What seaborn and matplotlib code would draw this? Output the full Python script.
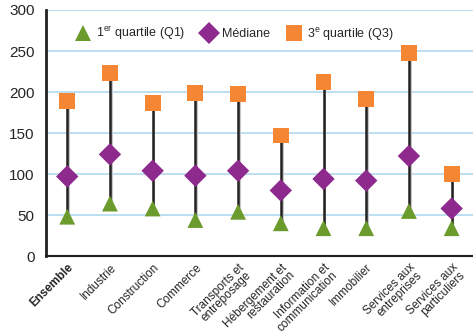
import pandas as pd
import seaborn as sns
import matplotlib.pyplot as plt

# Sectors and quartile values
secteurs = ["Ensemble", "Industrie", "Construction", "Commerce",
            "Transports et\nentreposage", "Hébergement et\nrestauration",
            "Information et\ncommunication", "Immobilier",
            "Services aux\nentreprises", "Services aux\nparticuliers"]
q1 = [48, 64, 58, 44, 54, 40, 34, 34, 55, 34]
mediane = [97, 124, 104, 98, 104, 80, 94, 92, 122, 58]
q3 = [189, 223, 187, 199, 198, 147, 212, 191, 248, 100]

lab_q1 = r"1$^{\mathrm{er}}$ quartile (Q1)"
lab_med = "Médiane"
lab_q3 = r"3$^{\mathrm{e}}$ quartile (Q3)"

sns.set_style("white")
plt.rcParams['font.family'] = ['Liberation Sans Narrow', 'Liberation Sans', 'DejaVu Sans']
plt.rcParams['mathtext.fontset'] = 'custom'
plt.rcParams['mathtext.rm'] = 'Liberation Sans'

df = pd.DataFrame({
    "secteur": secteurs * 3,
    "valeur": q1 + mediane + q3,
    "serie": [lab_q1] * 10 + [lab_med] * 10 + [lab_q3] * 10,
})
df["x"] = list(range(10)) * 3

fig = plt.figure(figsize=(4.73, 3.33), dpi=100)
ax = fig.add_axes([0.097, 0.231, 0.903, 0.739])

ax.set_ylim(0, 300)
ax.set_xlim(-0.5, 9.5)
for v in range(50, 301, 50):
    ax.axhline(v, color="#b8dcf0", lw=1.3, zorder=0)

# stems from Q1 to Q3
xs = list(range(10))
ax.vlines([x + 0.04 for x in xs], q1, q3, color="#c8c8c8", lw=1.5, zorder=1)
ax.vlines(xs, q1, q3, color="#231f20", lw=1.8, zorder=2)

sns.scatterplot(data=df, x="x", y="valeur", hue="serie", style="serie",
                palette={lab_q1: "#6b9a2d", lab_med: "#8e2a8e", lab_q3: "#f58634"},
                markers={lab_q1: "^", lab_med: "D", lab_q3: "s"},
                s=130, linewidth=0, zorder=3, ax=ax)

ax.legend(loc="upper center", bbox_to_anchor=(0.435, 0.985), ncol=3, frameon=False,
          fontsize=9, handletextpad=0.05, columnspacing=0.9, markerscale=0.95)

ax.set_xticks(xs)
ax.set_xticklabels(secteurs, rotation=45, ha="right", rotation_mode="anchor",
                   fontsize=8.5, linespacing=0.85)
ax.get_xticklabels()[0].set_fontweight("bold")
ax.set_yticks(range(0, 301, 50))
ax.tick_params(axis="y", labelsize=11, length=0, pad=8)
ax.tick_params(axis="x", length=0, pad=4)
ax.set_xlabel("")
ax.set_ylabel("")

sns.despine(ax=ax, top=True, right=True)
ax.spines["left"].set_color("#231f20")
ax.spines["left"].set_linewidth(2)
ax.spines["bottom"].set_color("#231f20")
ax.spines["bottom"].set_linewidth(1.5)

plt.savefig("out.png", dpi=100)
